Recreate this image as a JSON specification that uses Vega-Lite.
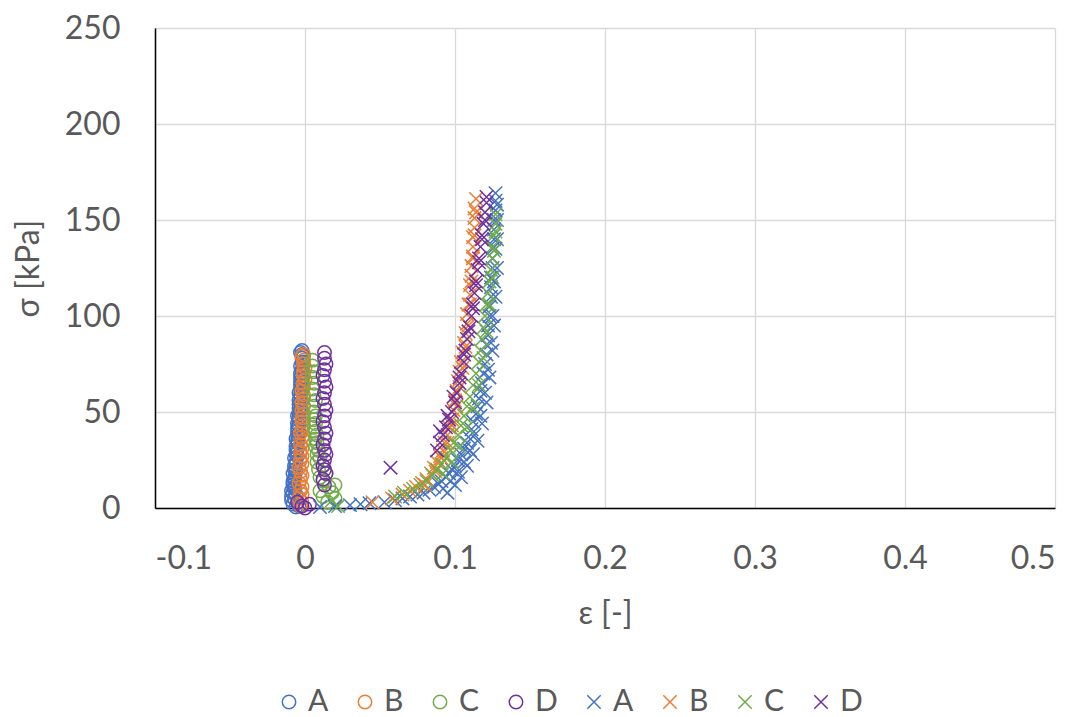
{
  "$schema": "https://vega.github.io/schema/vega-lite/v6.json",
  "width": 900,
  "height": 480,
  "autosize": {"type": "none"},
  "padding": {"left": 155, "top": 28, "right": 34, "bottom": 209},
  "background": "white",
  "config": {
    "view": {"stroke": null},
    "font": "Lato",
    "axis": {"labelFont": "Lato", "titleFont": "Lato", "labelColor": "#595959", "titleColor": "#595959", "titleFontWeight": "normal", "gridColor": "#D9D9D9", "gridWidth": 1.3, "domainColor": "#000000", "domainWidth": 1.5, "ticks": false, "tickSize": 0, "labelFontSize": 32, "titleFontSize": 32},
    "legend": {"labelFont": "Lato", "labelFontSize": 30, "labelColor": "#595959"}
  },
  "data": {"values": [
    {"s":"oA","e":-0.006,"p":0.5},{"s":"oA","e":-0.004,"p":1},{"s":"oA","e":-0.008,"p":2},{"s":"oA","e":-0.005,"p":3},{"s":"oA","e":-0.009,"p":4},{"s":"oA","e":-0.007,"p":5},{"s":"oA","e":-0.009,"p":6},{"s":"oA","e":-0.006,"p":7},{"s":"oA","e":-0.008,"p":8},{"s":"oA","e":-0.009,"p":9},{"s":"oA","e":-0.007,"p":10},{"s":"oA","e":-0.008,"p":12},{"s":"oA","e":-0.008,"p":14},{"s":"oA","e":-0.007,"p":16},{"s":"oA","e":-0.008,"p":18},{"s":"oA","e":-0.007,"p":20},{"s":"oA","e":-0.007,"p":22},{"s":"oA","e":-0.006,"p":24},{"s":"oA","e":-0.007,"p":26},{"s":"oA","e":-0.006,"p":28},{"s":"oA","e":-0.006,"p":30},{"s":"oA","e":-0.006,"p":32},{"s":"oA","e":-0.005,"p":34},{"s":"oA","e":-0.006,"p":36},{"s":"oA","e":-0.005,"p":38},{"s":"oA","e":-0.005,"p":40},{"s":"oA","e":-0.005,"p":42},{"s":"oA","e":-0.005,"p":44},{"s":"oA","e":-0.004,"p":46},{"s":"oA","e":-0.005,"p":48},{"s":"oA","e":-0.004,"p":50},{"s":"oA","e":-0.004,"p":52},{"s":"oA","e":-0.004,"p":54},{"s":"oA","e":-0.004,"p":56},{"s":"oA","e":-0.003,"p":58},{"s":"oA","e":-0.004,"p":60},{"s":"oA","e":-0.003,"p":62},{"s":"oA","e":-0.003,"p":64},{"s":"oA","e":-0.003,"p":66},{"s":"oA","e":-0.003,"p":68},{"s":"oA","e":-0.003,"p":70},{"s":"oA","e":-0.002,"p":72},{"s":"oA","e":-0.003,"p":74},{"s":"oA","e":-0.002,"p":76},{"s":"oA","e":-0.002,"p":78},{"s":"oA","e":-0.002,"p":80},{"s":"oA","e":-0.003,"p":81},{"s":"oA","e":-0.002,"p":82},
    {"s":"oA","e":-0.007,"p":11},{"s":"oA","e":-0.008,"p":13},{"s":"oA","e":-0.007,"p":15},{"s":"oA","e":-0.006,"p":19},{"s":"oA","e":-0.006,"p":23},{"s":"oA","e":-0.005,"p":27},{"s":"oA","e":-0.005,"p":31},{"s":"oA","e":-0.005,"p":35},{"s":"oA","e":-0.004,"p":39},{"s":"oA","e":-0.004,"p":43},{"s":"oA","e":-0.004,"p":47},{"s":"oA","e":-0.003,"p":51},{"s":"oA","e":-0.003,"p":55},{"s":"oA","e":-0.003,"p":59},{"s":"oA","e":-0.002,"p":63},{"s":"oA","e":-0.002,"p":67},{"s":"oA","e":-0.002,"p":71},{"s":"oA","e":-0.001,"p":75},{"s":"oA","e":-0.001,"p":79},
    {"s":"oB","e":-0.003,"p":1},{"s":"oB","e":-0.002,"p":3},{"s":"oB","e":-0.004,"p":5},{"s":"oB","e":-0.002,"p":7},{"s":"oB","e":-0.003,"p":9},{"s":"oB","e":-0.002,"p":11},{"s":"oB","e":-0.004,"p":13},{"s":"oB","e":-0.003,"p":15},{"s":"oB","e":-0.002,"p":17},{"s":"oB","e":-0.003,"p":19},{"s":"oB","e":-0.004,"p":21},{"s":"oB","e":-0.002,"p":23},{"s":"oB","e":-0.003,"p":25},{"s":"oB","e":-0.002,"p":27},{"s":"oB","e":-0.003,"p":29},{"s":"oB","e":-0.002,"p":31},{"s":"oB","e":-0.003,"p":33},{"s":"oB","e":-0.001,"p":35},{"s":"oB","e":-0.002,"p":37},{"s":"oB","e":-0.003,"p":39},{"s":"oB","e":-0.002,"p":41},{"s":"oB","e":-0.001,"p":43},{"s":"oB","e":-0.002,"p":45},{"s":"oB","e":-0.002,"p":47},{"s":"oB","e":-0.001,"p":49},{"s":"oB","e":-0.002,"p":51},{"s":"oB","e":-0.001,"p":53},{"s":"oB","e":-0.002,"p":55},{"s":"oB","e":-0.001,"p":57},{"s":"oB","e":-0.001,"p":59},{"s":"oB","e":-0.002,"p":61},{"s":"oB","e":-0.001,"p":63},{"s":"oB","e":-0.001,"p":65},{"s":"oB","e":0.0,"p":67},{"s":"oB","e":-0.001,"p":69},{"s":"oB","e":-0.001,"p":71},{"s":"oB","e":0.0,"p":73},{"s":"oB","e":-0.001,"p":75},{"s":"oB","e":-0.001,"p":77},{"s":"oB","e":-0.002,"p":79},{"s":"oB","e":-0.001,"p":80},
    {"s":"oC","e":0.015,"p":3},{"s":"oC","e":0.02,"p":5},{"s":"oC","e":0.012,"p":6},{"s":"oC","e":0.018,"p":8},{"s":"oC","e":0.01,"p":9},{"s":"oC","e":0.016,"p":11},{"s":"oC","e":0.02,"p":12},{"s":"oC","e":0.012,"p":14},{"s":"oC","e":0.01,"p":16},{"s":"oC","e":0.014,"p":18},{"s":"oC","e":0.009,"p":20},{"s":"oC","e":0.012,"p":22},{"s":"oC","e":0.008,"p":24},{"s":"oC","e":0.01,"p":26},{"s":"oC","e":0.008,"p":28},{"s":"oC","e":0.009,"p":30},{"s":"oC","e":0.007,"p":32},{"s":"oC","e":0.008,"p":34},{"s":"oC","e":0.007,"p":36},{"s":"oC","e":0.008,"p":38},{"s":"oC","e":0.007,"p":40},{"s":"oC","e":0.006,"p":42},{"s":"oC","e":0.007,"p":44},{"s":"oC","e":0.006,"p":46},{"s":"oC","e":0.007,"p":48},{"s":"oC","e":0.006,"p":50},{"s":"oC","e":0.006,"p":53},{"s":"oC","e":0.007,"p":56},{"s":"oC","e":0.006,"p":59},{"s":"oC","e":0.005,"p":62},{"s":"oC","e":0.006,"p":65},{"s":"oC","e":0.005,"p":68},{"s":"oC","e":0.006,"p":71},{"s":"oC","e":0.005,"p":74},{"s":"oC","e":0.005,"p":77},
    {"s":"oD","e":0.0,"p":0},{"s":"oD","e":-0.002,"p":1},{"s":"oD","e":-0.005,"p":3},{"s":"oD","e":0.003,"p":2},{"s":"oD","e":0.013,"p":12},{"s":"oD","e":0.012,"p":15},{"s":"oD","e":0.014,"p":18},{"s":"oD","e":0.013,"p":20},{"s":"oD","e":0.012,"p":22},{"s":"oD","e":0.013,"p":25},{"s":"oD","e":0.014,"p":28},{"s":"oD","e":0.013,"p":30},{"s":"oD","e":0.012,"p":33},{"s":"oD","e":0.013,"p":36},{"s":"oD","e":0.014,"p":39},{"s":"oD","e":0.013,"p":42},{"s":"oD","e":0.012,"p":45},{"s":"oD","e":0.013,"p":48},{"s":"oD","e":0.014,"p":51},{"s":"oD","e":0.013,"p":54},{"s":"oD","e":0.012,"p":57},{"s":"oD","e":0.013,"p":60},{"s":"oD","e":0.014,"p":63},{"s":"oD","e":0.013,"p":66},{"s":"oD","e":0.012,"p":69},{"s":"oD","e":0.013,"p":72},{"s":"oD","e":0.014,"p":75},{"s":"oD","e":0.013,"p":78},{"s":"oD","e":0.013,"p":81},
    {"s":"xA","e":0.01,"p":0.5},{"s":"xA","e":0.02,"p":1},{"s":"xA","e":0.03,"p":1.5},{"s":"xA","e":0.037,"p":2},{"s":"xA","e":0.043,"p":2.5},{"s":"xA","e":0.053,"p":3},{"s":"xA","e":0.06,"p":4},{"s":"xA","e":0.065,"p":5},{"s":"xA","e":0.07,"p":6},{"s":"xA","e":0.075,"p":7},{"s":"xA","e":0.079,"p":8},{"s":"xA","e":0.083,"p":9.5},{"s":"xA","e":0.086,"p":11},{"s":"xA","e":0.089,"p":12.5},{"s":"xA","e":0.091,"p":14},{"s":"xA","e":0.094,"p":16},{"s":"xA","e":0.096,"p":18},{"s":"xA","e":0.098,"p":20},{"s":"xA","e":0.1,"p":22},{"s":"xA","e":0.102,"p":25},{"s":"xA","e":0.104,"p":28},{"s":"xA","e":0.106,"p":31},{"s":"xA","e":0.108,"p":34},{"s":"xA","e":0.109,"p":37},{"s":"xA","e":0.111,"p":41},{"s":"xA","e":0.112,"p":45},{"s":"xA","e":0.114,"p":49},{"s":"xA","e":0.115,"p":53},{"s":"xA","e":0.116,"p":57},{"s":"xA","e":0.117,"p":61},{"s":"xA","e":0.118,"p":65},{"s":"xA","e":0.119,"p":70},{"s":"xA","e":0.12,"p":75},{"s":"xA","e":0.121,"p":80},{"s":"xA","e":0.121,"p":85},{"s":"xA","e":0.122,"p":90},{"s":"xA","e":0.122,"p":95},{"s":"xA","e":0.123,"p":100},{"s":"xA","e":0.123,"p":105},{"s":"xA","e":0.124,"p":110},{"s":"xA","e":0.124,"p":115},{"s":"xA","e":0.124,"p":120},{"s":"xA","e":0.125,"p":125},{"s":"xA","e":0.125,"p":130},{"s":"xA","e":0.125,"p":135},{"s":"xA","e":0.126,"p":140},{"s":"xA","e":0.126,"p":145},{"s":"xA","e":0.126,"p":150},{"s":"xA","e":0.127,"p":155},{"s":"xA","e":0.127,"p":160},{"s":"xA","e":0.127,"p":164},
    {"s":"xA","e":0.092,"p":10},{"s":"xA","e":0.097,"p":14},{"s":"xA","e":0.102,"p":19},{"s":"xA","e":0.106,"p":24},{"s":"xA","e":0.11,"p":30},{"s":"xA","e":0.113,"p":38},{"s":"xA","e":0.117,"p":48},{"s":"xA","e":0.12,"p":60},{"s":"xA","e":0.122,"p":72},{"s":"xA","e":0.124,"p":86},{"s":"xA","e":0.125,"p":100},{"s":"xA","e":0.126,"p":118},{"s":"xA","e":0.127,"p":135},{"s":"xA","e":0.128,"p":150},
    {"s":"xA","e":0.095,"p":8},{"s":"xA","e":0.1,"p":12},{"s":"xA","e":0.104,"p":16},{"s":"xA","e":0.108,"p":22},{"s":"xA","e":0.112,"p":28},{"s":"xA","e":0.115,"p":35},{"s":"xA","e":0.118,"p":44},{"s":"xA","e":0.121,"p":55},{"s":"xA","e":0.123,"p":68},{"s":"xA","e":0.125,"p":82},{"s":"xA","e":0.126,"p":95},{"s":"xA","e":0.127,"p":110},{"s":"xA","e":0.128,"p":125},{"s":"xA","e":0.128,"p":140},{"s":"xA","e":0.128,"p":158},
    {"s":"xB","e":0.045,"p":3},{"s":"xB","e":0.058,"p":5},{"s":"xB","e":0.065,"p":7},{"s":"xB","e":0.07,"p":9},{"s":"xB","e":0.074,"p":11},{"s":"xB","e":0.078,"p":13},{"s":"xB","e":0.081,"p":15},{"s":"xB","e":0.084,"p":18},{"s":"xB","e":0.086,"p":21},{"s":"xB","e":0.088,"p":24},{"s":"xB","e":0.09,"p":27},{"s":"xB","e":0.092,"p":30},{"s":"xB","e":0.093,"p":34},{"s":"xB","e":0.095,"p":38},{"s":"xB","e":0.096,"p":42},{"s":"xB","e":0.098,"p":46},{"s":"xB","e":0.099,"p":51},{"s":"xB","e":0.1,"p":56},{"s":"xB","e":0.101,"p":61},{"s":"xB","e":0.102,"p":66},{"s":"xB","e":0.103,"p":71},{"s":"xB","e":0.104,"p":76},{"s":"xB","e":0.105,"p":81},{"s":"xB","e":0.106,"p":86},{"s":"xB","e":0.107,"p":91},{"s":"xB","e":0.108,"p":96},{"s":"xB","e":0.108,"p":101},{"s":"xB","e":0.109,"p":106},{"s":"xB","e":0.11,"p":111},{"s":"xB","e":0.11,"p":116},{"s":"xB","e":0.111,"p":121},{"s":"xB","e":0.111,"p":126},{"s":"xB","e":0.112,"p":131},{"s":"xB","e":0.112,"p":136},{"s":"xB","e":0.112,"p":141},{"s":"xB","e":0.113,"p":146},{"s":"xB","e":0.113,"p":151},{"s":"xB","e":0.113,"p":156},{"s":"xB","e":0.114,"p":161},
    {"s":"xB","e":0.08,"p":12},{"s":"xB","e":0.087,"p":19},{"s":"xB","e":0.091,"p":26},{"s":"xB","e":0.095,"p":34},{"s":"xB","e":0.098,"p":43},{"s":"xB","e":0.101,"p":53},{"s":"xB","e":0.103,"p":63},{"s":"xB","e":0.105,"p":73},{"s":"xB","e":0.107,"p":84},{"s":"xB","e":0.109,"p":95},{"s":"xB","e":0.11,"p":106},{"s":"xB","e":0.111,"p":118},{"s":"xB","e":0.112,"p":130},{"s":"xB","e":0.113,"p":142},{"s":"xB","e":0.114,"p":154},
    {"s":"xC","e":0.022,"p":1},{"s":"xC","e":0.018,"p":4},{"s":"xC","e":0.06,"p":6},{"s":"xC","e":0.066,"p":8},{"s":"xC","e":0.072,"p":10},{"s":"xC","e":0.077,"p":12},{"s":"xC","e":0.081,"p":14},{"s":"xC","e":0.085,"p":17},{"s":"xC","e":0.088,"p":20},{"s":"xC","e":0.091,"p":23},{"s":"xC","e":0.094,"p":26},{"s":"xC","e":0.097,"p":30},{"s":"xC","e":0.099,"p":34},{"s":"xC","e":0.102,"p":38},{"s":"xC","e":0.104,"p":43},{"s":"xC","e":0.106,"p":48},{"s":"xC","e":0.108,"p":53},{"s":"xC","e":0.11,"p":58},{"s":"xC","e":0.112,"p":64},{"s":"xC","e":0.114,"p":70},{"s":"xC","e":0.116,"p":76},{"s":"xC","e":0.117,"p":82},{"s":"xC","e":0.118,"p":88},{"s":"xC","e":0.119,"p":94},{"s":"xC","e":0.12,"p":100},{"s":"xC","e":0.121,"p":106},{"s":"xC","e":0.122,"p":112},{"s":"xC","e":0.123,"p":118},{"s":"xC","e":0.124,"p":124},{"s":"xC","e":0.125,"p":130},{"s":"xC","e":0.125,"p":136},{"s":"xC","e":0.126,"p":142},{"s":"xC","e":0.127,"p":148},{"s":"xC","e":0.127,"p":153},
    {"s":"xC","e":0.092,"p":18},{"s":"xC","e":0.098,"p":24},{"s":"xC","e":0.103,"p":32},{"s":"xC","e":0.108,"p":42},{"s":"xC","e":0.112,"p":52},{"s":"xC","e":0.116,"p":64},{"s":"xC","e":0.119,"p":78},{"s":"xC","e":0.121,"p":92},{"s":"xC","e":0.123,"p":106},{"s":"xC","e":0.125,"p":120},{"s":"xC","e":0.126,"p":134},{"s":"xC","e":0.127,"p":144},
    {"s":"xD","e":0.057,"p":21},{"s":"xD","e":0.088,"p":30},{"s":"xD","e":0.09,"p":34},{"s":"xD","e":0.092,"p":38},{"s":"xD","e":0.094,"p":42},{"s":"xD","e":0.096,"p":46},{"s":"xD","e":0.098,"p":50},{"s":"xD","e":0.1,"p":55},{"s":"xD","e":0.101,"p":60},{"s":"xD","e":0.103,"p":65},{"s":"xD","e":0.104,"p":70},{"s":"xD","e":0.106,"p":76},{"s":"xD","e":0.107,"p":82},{"s":"xD","e":0.108,"p":88},{"s":"xD","e":0.11,"p":94},{"s":"xD","e":0.111,"p":100},{"s":"xD","e":0.112,"p":106},{"s":"xD","e":0.113,"p":112},{"s":"xD","e":0.114,"p":118},{"s":"xD","e":0.115,"p":124},{"s":"xD","e":0.116,"p":130},{"s":"xD","e":0.117,"p":136},{"s":"xD","e":0.118,"p":142},{"s":"xD","e":0.119,"p":148},{"s":"xD","e":0.12,"p":154},{"s":"xD","e":0.121,"p":159},{"s":"xD","e":0.121,"p":162},
    {"s":"xD","e":0.09,"p":40},{"s":"xD","e":0.095,"p":48},{"s":"xD","e":0.099,"p":58},{"s":"xD","e":0.103,"p":68},{"s":"xD","e":0.106,"p":80},{"s":"xD","e":0.109,"p":92},{"s":"xD","e":0.112,"p":104},{"s":"xD","e":0.114,"p":116},{"s":"xD","e":0.116,"p":128},{"s":"xD","e":0.118,"p":140},{"s":"xD","e":0.12,"p":150}
  ]},
  "mark": {"type": "point", "filled": false, "opacity": 1, "strokeWidth": 1.5},
  "encoding": {
    "x": {"field": "e", "type": "quantitative", "scale": {"domain": [-0.1, 0.5], "nice": false, "zero": false},
      "axis": {"values": [-0.1, 0, 0.1, 0.2, 0.3, 0.4, 0.5], "labelExpr": "toString(round(datum.value*10)/10)", "labelPadding": 35, "title": "ε [-]", "titleX": 450, "titleY": 105, "titleBaseline": "middle", "titleAlign": "center"}},
    "y": {"field": "p", "type": "quantitative", "scale": {"domain": [0, 250], "nice": false},
      "axis": {"values": [0, 50, 100, 150, 200, 250], "labelPadding": 35, "title": "σ [kPa]", "titleX": -127, "titleY": 240, "titleBaseline": "middle", "titleAlign": "center", "titleAngle": -90}},
    "color": {"field": "s", "type": "nominal",
      "scale": {"domain": ["oA","oB","oC","oD","xA","xB","xC","xD"], "range": ["#4472C4","#ED7D31","#70AD47","#7030A0","#4472C4","#ED7D31","#70AD47","#7030A0"]},
      "legend": {"orient": "none", "legendX": 119, "legendY": 659, "direction": "horizontal", "columns": 8, "title": null, "labelExpr": "substring(datum.label,1)", "symbolSize": 180, "symbolStrokeWidth": 1.5, "labelOffset": 4, "columnPadding": 21}},
    "shape": {"field": "s", "type": "nominal",
      "scale": {"domain": ["oA","oB","oC","oD","xA","xB","xC","xD"], "range": ["circle","circle","circle","circle","M-1,-1L1,1M1,-1L-1,1","M-1,-1L1,1M1,-1L-1,1","M-1,-1L1,1M1,-1L-1,1","M-1,-1L1,1M1,-1L-1,1"]}},
    "size": {"field": "s", "type": "ordinal", "legend": null,
      "scale": {"domain": ["oA","oB","oC","oD","xA","xB","xC","xD"], "range": [180,180,180,180,130,130,130,130]}}
  }
}
